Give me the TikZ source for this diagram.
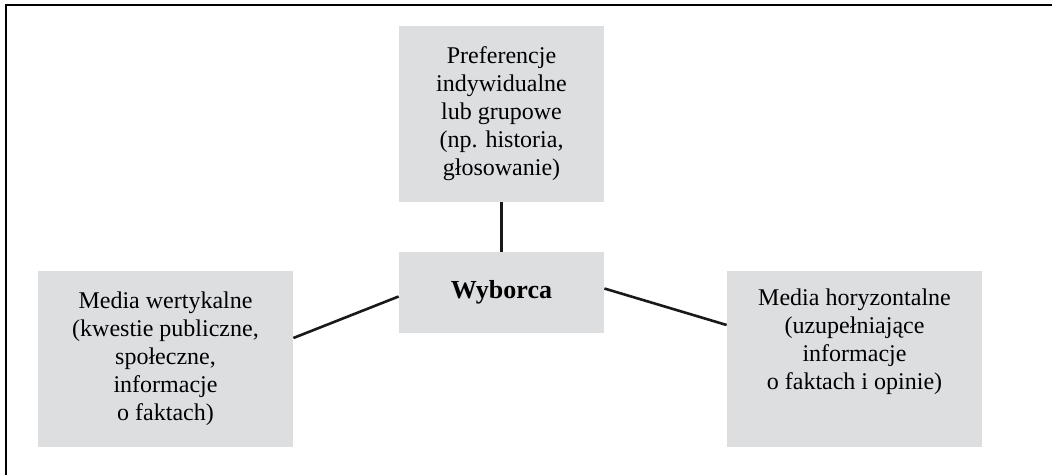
\documentclass[tikz,border=0pt]{standalone}
\usepackage{fontspec}
\setmainfont{Liberation Serif}
\definecolor{boxgray}{RGB}{221,222,224}
\tikzset{
	pole/.style={fill=boxgray,inner sep=0pt,align=center,font=\fontsize{12}{14}\selectfont},
	link/.style={line width=1.3pt,black!90}
}
\begin{document}
\begin{tikzpicture}[x=0.5pt,y=-0.5pt]
			\useasboundingbox (0,0) rectangle (1052,475);
			\draw[line width=1pt] (6,475)--(6,5)--(1052,5);
			\node[pole,minimum width=102.5pt,minimum height=88pt] (pref) at (501.5,114) {Preferencje\\indywidualne\\lub grupowe\\(np. historia,\\głosowanie)};
			\node[pole,minimum width=102.5pt,minimum height=40.5pt,font=\fontsize{13}{15}\selectfont\bfseries] (voter) at (501.5,292.5) {Wyborca};
			\node[pole,minimum width=127.5pt,minimum height=88pt] (vert) at (165.5,359) {Media wertykalne\\(kwestie publiczne,\\społeczne,\\informacje\\o faktach)};
			\node[pole,minimum width=127.5pt,minimum height=88pt] (horiz) at (854.5,359) {Media horyzontalne\\(uzupełniające\\informacje\\o faktach i opinie)\\[6pt]};
			\draw[link] (pref.south)--(voter.north);
			\draw[link] ([yshift=10.5pt]vert.east)--([yshift=-2pt]voter.west);
			\draw[link] ([yshift=2pt]voter.east)--([yshift=17pt]horiz.west);
		\end{tikzpicture}
\end{document}
